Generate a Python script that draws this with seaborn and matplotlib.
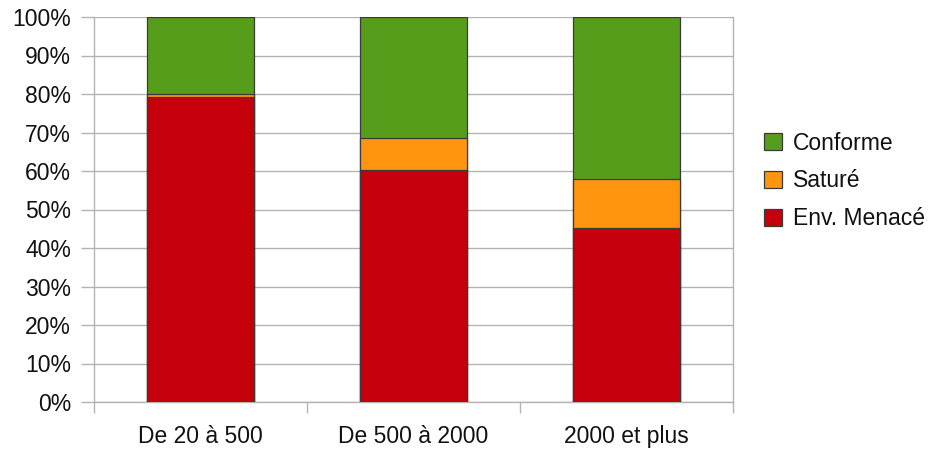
import matplotlib
matplotlib.use("Agg")
import matplotlib.pyplot as plt
import matplotlib.patches as mpatches
from matplotlib.ticker import FixedLocator, PercentFormatter
import numpy as np
import pandas as pd
import seaborn as sns

categories = ["De 20 à 500", "De 500 à 2000", "2000 et plus"]
env_menace = [79.3, 60.3, 45.1]
sature = [0.6, 8.2, 12.8]
conforme = [20.1, 31.5, 42.1]

series_names = ["Conforme", "Saturé", "Env. Menacé"]
colors = {"Conforme": "#579d1c", "Saturé": "#ff950e", "Env. Menacé": "#c5000b"}

sns.set_theme(style="white")
plt.rcParams["font.family"] = ["Liberation Sans", "DejaVu Sans"]
FS = 16.5

# cumulative tops so each layer can be overlaid from tallest to shortest
df = pd.DataFrame({
    "cat": categories,
    "Env. Menacé": np.array(env_menace),
    "Saturé": np.array(env_menace) + np.array(sature),
    "Conforme": np.array(env_menace) + np.array(sature) + np.array(conforme),
})

fig = plt.figure(figsize=(9.32, 4.49), dpi=100)
ax = fig.add_axes([94 / 932, 47 / 449, 639 / 932, 385 / 449])

edge = "#3a3a3a"
for name in series_names:
    sns.barplot(data=df, x="cat", y=name, color=colors[name], width=0.5,
                edgecolor=edge, linewidth=0.9, saturation=1, ax=ax, zorder=3)

ax.set_ylim(0, 100)
ax.set_xlim(-0.5, 2.5)
ax.yaxis.set_major_locator(FixedLocator(np.arange(0, 101, 10)))
ax.yaxis.set_major_formatter(PercentFormatter(decimals=0))
ax.set_xlabel("")
ax.set_ylabel("")

grid_c = "#b3b3b3"
ax.grid(axis="y", color=grid_c, linewidth=1, zorder=0)
ax.set_axisbelow(True)

for side in ["left", "right", "bottom"]:
    ax.spines[side].set_visible(True)
    ax.spines[side].set_color(grid_c)
    ax.spines[side].set_linewidth(1)
ax.spines["top"].set_visible(False)

ax.tick_params(axis="y", length=9.5, width=1, color=grid_c, pad=7,
               labelsize=FS, labelcolor="#111111", left=True)
ax.tick_params(axis="x", which="major", length=0, pad=16.5,
               labelsize=FS, labelcolor="#111111")
ax.xaxis.set_minor_locator(FixedLocator([-0.5, 0.5, 1.5, 2.5]))
ax.tick_params(axis="x", which="minor", length=8, width=1, color=grid_c,
               bottom=True, direction="out")

handles = [mpatches.Patch(facecolor=colors[n], edgecolor=edge, linewidth=0.9, label=n)
           for n in series_names]
fig.legend(handles=handles, loc="center left", bbox_to_anchor=(764 / 932, 1 - 181 / 449),
           frameon=False, fontsize=FS, handlelength=0.8, handleheight=0.8,
           handletextpad=0.45, labelspacing=0.65, borderpad=0, borderaxespad=0,
           labelcolor="#111111")

fig.savefig("out.png", dpi=100)
